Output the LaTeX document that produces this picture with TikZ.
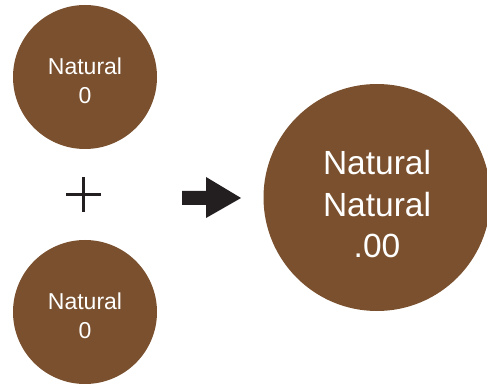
\documentclass[tikz,border=0pt]{standalone}
\usepackage{fontspec}
\setmainfont{Liberation Sans}
\usetikzlibrary{positioning}
\definecolor{natbrown}{RGB}{122,80,46}
\definecolor{signgray}{RGB}{35,31,32}
\tikzstyle{nat}=[circle,fill=natbrown,text=white,inner sep=0pt,minimum size=144pt,align=center,font=\fontsize{23}{29}\selectfont,text height=53pt,text depth=0pt]
\tikzstyle{bignat}=[circle,fill=natbrown,text=white,inner sep=0pt,minimum size=227pt,align=center,font=\fontsize{33.5}{41.5}\selectfont,text height=121pt,text depth=0pt]
\tikzstyle{sign}=[draw=signgray,line width=3.5pt]

\begin{document}
\begin{tikzpicture}[x=1pt,y=1pt]
  \useasboundingbox (0,0) rectangle (487,383);
  \node[nat] (A) at (85,306) {Natural\\0};
  \node[nat] (B) at (85,71) {Natural\\0};
  \node[bignat] (C) at (377,185.5) {Natural\\Natural\\.00};
  % plus sign
  \draw[sign] (66,188.5) -- (101,188.5);
  \draw[sign] (83.5,171) -- (83.5,206);
  % block arrow
  \fill[signgray] (182,192) -- (206,192) -- (206,206) -- (241,185) -- (206,165) -- (206,178) -- (182,178) -- cycle;
\end{tikzpicture}
\end{document}
